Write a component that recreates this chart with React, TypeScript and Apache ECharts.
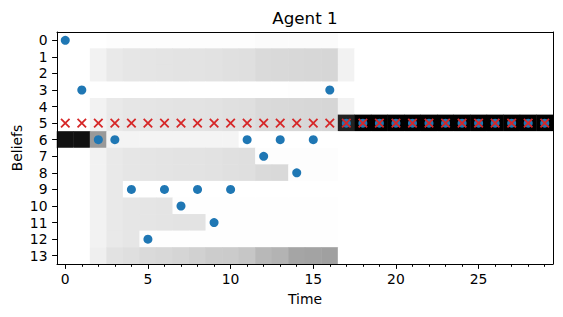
import React, { useEffect, useRef } from "react";
import * as echarts from "echarts";

const timeSteps = Array.from({ length: 30 }, (_, i) => String(i));
const beliefLabels = Array.from({ length: 14 }, (_, i) => String(i));

// belief probability grid: one row per belief, one value per time step
const beliefGrid: number[][] = [
  [0, 0, 0, 0.02, 0.02, 0.02, 0.02, 0.02, 0.02, 0.02, 0.02, 0.02, 0.03, 0.03, 0.03, 0.03, 0.03, 0, 0, 0, 0, 0, 0, 0, 0, 0, 0, 0, 0, 0],
  [0, 0, 0.108, 0.163, 0.179, 0.185, 0.19, 0.196, 0.196, 0.201, 0.212, 0.217, 0.245, 0.25, 0.254, 0.259, 0.263, 0.108, 0, 0, 0, 0, 0, 0, 0, 0, 0, 0, 0, 0],
  [0, 0, 0.108, 0.163, 0.179, 0.185, 0.19, 0.196, 0.196, 0.201, 0.212, 0.217, 0.245, 0.25, 0.254, 0.259, 0.263, 0.108, 0, 0, 0, 0, 0, 0, 0, 0, 0, 0, 0, 0],
  [0, 0, 0, 0, 0, 0, 0, 0, 0, 0, 0, 0, 0, 0, 0.01, 0.01, 0.01, 0, 0, 0, 0, 0, 0, 0, 0, 0, 0, 0, 0, 0],
  [0, 0, 0.108, 0.163, 0.179, 0.185, 0.19, 0.196, 0.196, 0.201, 0.212, 0.217, 0.245, 0.25, 0.254, 0.259, 0.263, 0.108, 0, 0, 0, 0, 0, 0, 0, 0, 0, 0, 0, 0],
  [0, 0, 0.108, 0.163, 0.179, 0.185, 0.19, 0.196, 0.196, 0.201, 0.212, 0.217, 0.245, 0.25, 0.254, 0.259, 0.263, 0.885, 1, 1, 1, 1, 1, 1, 1, 1, 1, 1, 1, 1],
  [0.943, 0.943, 0.49, 0.092, 0.092, 0.092, 0.092, 0.092, 0.092, 0.092, 0.092, 0, 0, 0, 0, 0, 0, 0, 0, 0, 0, 0, 0, 0, 0, 0, 0, 0, 0, 0],
  [0, 0, 0.108, 0.163, 0.179, 0.185, 0.19, 0.196, 0.196, 0.201, 0.212, 0.217, 0.015, 0.015, 0.015, 0.015, 0.015, 0, 0, 0, 0, 0, 0, 0, 0, 0, 0, 0, 0, 0],
  [0, 0, 0.108, 0.163, 0.179, 0.185, 0.19, 0.196, 0.196, 0.201, 0.212, 0.217, 0.245, 0.25, 0.015, 0.015, 0.015, 0, 0, 0, 0, 0, 0, 0, 0, 0, 0, 0, 0, 0],
  [0, 0, 0.108, 0.163, 0, 0, 0, 0, 0, 0, 0, 0, 0, 0, 0, 0, 0, 0, 0, 0, 0, 0, 0, 0, 0, 0, 0, 0, 0, 0],
  [0, 0, 0.108, 0.163, 0.179, 0.185, 0.19, 0.01, 0.01, 0.01, 0.01, 0.01, 0.01, 0.01, 0.01, 0.01, 0.01, 0, 0, 0, 0, 0, 0, 0, 0, 0, 0, 0, 0, 0],
  [0, 0, 0.108, 0.163, 0.179, 0.185, 0.19, 0.196, 0.196, 0.01, 0.01, 0.01, 0.01, 0.01, 0.01, 0.01, 0.01, 0, 0, 0, 0, 0, 0, 0, 0, 0, 0, 0, 0, 0],
  [0, 0, 0.108, 0.163, 0.179, 0.01, 0.01, 0.01, 0.01, 0.01, 0.01, 0.01, 0.01, 0.01, 0.01, 0.01, 0.01, 0, 0, 0, 0, 0, 0, 0, 0, 0, 0, 0, 0, 0],
  [0, 0, 0.13, 0.201, 0.217, 0.245, 0.254, 0.268, 0.286, 0.308, 0.313, 0.335, 0.391, 0.407, 0.452, 0.458, 0.468, 0, 0, 0, 0, 0, 0, 0, 0, 0, 0, 0, 0, 0],
];

// actual belief (blue dots) per time step
const actualBelief = [0, 3, 6, 6, 9, 12, 9, 10, 9, 11, 9, 6, 7, 6, 8, 6, 3, 5, 5, 5, 5, 5, 5, 5, 5, 5, 5, 5, 5, 5];
// true state (red crosses) per time step
const trueState = [5, 5, 5, 5, 5, 5, 5, 5, 5, 5, 5, 5, 5, 5, 5, 5, 5, 5, 5, 5, 5, 5, 5, 5, 5, 5, 5, 5, 5, 5];

const greys = ["#ffffff", "#f0f0f0", "#d9d9d9", "#bdbdbd", "#969696", "#737373", "#525252", "#252525", "#000000"];
const FONT = "DejaVu Sans";

export default function App() {
  const ref = useRef<HTMLDivElement>(null);
  useEffect(() => {
    if (!ref.current) return;
    const chart = echarts.init(ref.current, null, { renderer: "svg" });
    const heatData: number[][] = [];
    beliefGrid.forEach((row, y) => row.forEach((v, x) => heatData.push([x, y, v])));
    const gridL = 57, gridT = 32, gridW = 496, gridH = 232;
    const frameAxis = { show: true, lineStyle: { color: "#000", width: 1 } };
    chart.setOption({
      animation: false,
      backgroundColor: "#fff",
      grid: { left: gridL, top: gridT, width: gridW, height: gridH, containLabel: false },
      visualMap: { type: "continuous", min: 0, max: 1, show: false, seriesIndex: 0, inRange: { color: greys } },
      xAxis: [
        {
          type: "category", data: timeSteps, position: "bottom", z: 5,
          axisLine: frameAxis,
          axisTick: { show: true, interval: 4, alignWithLabel: true, length: 4.9, lineStyle: { color: "#000" } },
          axisLabel: { interval: 4, margin: 8, color: "#000", fontSize: 13.9, fontFamily: FONT },
          splitLine: { show: false },
        },
        {
          type: "category", data: timeSteps, position: "bottom", z: 5,
          axisLine: { show: false },
          axisTick: { show: true, interval: 0, alignWithLabel: true, length: 2.8, lineStyle: { color: "#000" } },
          axisLabel: { show: false },
          splitLine: { show: false },
        },
        {
          type: "category", data: timeSteps, position: "top", z: 5,
          axisLine: frameAxis, axisTick: { show: false }, axisLabel: { show: false }, splitLine: { show: false },
        },
      ],
      yAxis: [
        {
          type: "category", data: beliefLabels, inverse: true, position: "left", z: 5,
          axisLine: frameAxis,
          axisTick: { show: true, interval: 0, alignWithLabel: true, length: 4.9, lineStyle: { color: "#000" } },
          axisLabel: { interval: 0, margin: 9.5, color: "#000", fontSize: 13.9, fontFamily: FONT },
          splitLine: { show: false },
        },
        {
          type: "category", data: beliefLabels, inverse: true, position: "right", z: 5,
          axisLine: frameAxis, axisTick: { show: false }, axisLabel: { show: false }, splitLine: { show: false },
        },
      ],
      series: [
        {
          type: "heatmap", xAxisIndex: 0, yAxisIndex: 0, data: heatData,
          itemStyle: { borderWidth: 0 }, emphasis: { disabled: true }, progressive: 0,
        },
        {
          type: "scatter", xAxisIndex: 0, yAxisIndex: 0, z: 3,
          data: actualBelief.map((b, t) => [t, b]),
          symbol: "circle", symbolSize: 9,
          itemStyle: { color: "#1f77b4", opacity: 1 },
          emphasis: { disabled: true },
        },
        {
          type: "scatter", xAxisIndex: 0, yAxisIndex: 0, z: 4,
          data: trueState.map((s, t) => [t, s]),
          symbol: "path://M0,0L10,10M0,10L10,0", symbolSize: 8.5,
          itemStyle: { color: "none", borderColor: "#d62728", borderWidth: 1.8, opacity: 1 },
          emphasis: { disabled: true },
        },
      ],
      graphic: [
        { type: "text", x: gridL + gridW / 2, y: 18, style: { text: "Agent 1", fontSize: 16.7, fontFamily: FONT, fill: "#000", align: "center", verticalAlign: "middle" } },
        { type: "text", x: gridL + gridW / 2, y: 299, style: { text: "Time", fontSize: 13.9, fontFamily: FONT, fill: "#000", align: "center", verticalAlign: "middle" } },
        { type: "text", x: 17, y: gridT + gridH / 2, rotation: Math.PI / 2, style: { text: "Beliefs", fontSize: 13.9, fontFamily: FONT, fill: "#000", align: "center", verticalAlign: "middle" } },
      ],
    });
    return () => chart.dispose();
  }, []);
  return <div ref={ref} style={{ position: "fixed", left: 0, top: 0, width: 563, height: 317 }} />;
}
